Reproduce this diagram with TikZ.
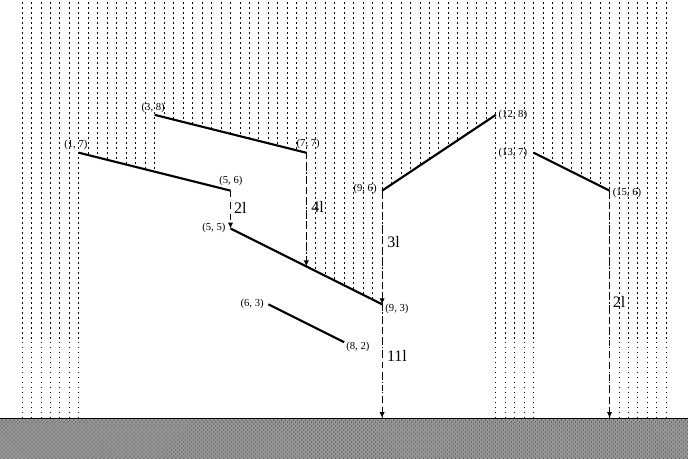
\documentclass[tikz,border=0pt]{standalone}
\usepackage{fontspec}
\setmainfont{Liberation Serif}
\usetikzlibrary{arrows.meta,patterns}
\begin{document}
\begin{tikzpicture}[
  rain/.style={line width=0.75pt, dash pattern=on 1.1pt off 2.65pt, black},
  seg/.style={line width=1.6pt},
  flow/.style={line width=0.75pt, dash pattern=on 5pt off 3.6pt, -{Latex[length=4.5pt,width=4pt]}},
  pt/.style={font=\fontsize{8}{9}\selectfont, inner sep=0pt},
  amt/.style={font=\fontsize{12}{14}\selectfont, inner sep=0pt},
  groundfill/.style={fill=black!40},
  groundtex/.style={pattern=crosshatch dots, pattern color=black!75},
]
\useasboundingbox (-1.082,-1.055) rectangle (17.07,11.03);
% ground
\fill[groundfill] (-1.2,-1.2) rectangle (17.2,0);
\fill[groundtex] (-1.2,-1.2) rectangle (17.2,0);
\draw[line width=0.8pt] (-1.2,0) -- (17.2,0);
% rain reaching the ground
\foreach \i [evaluate=\i as \x using \i/4] in {-2,...,4,36,48,49,50,51,52,60,61,...,66}
  \draw[rain] (\x,11.1) -- (\x,0);
% rain stopped by the segments
\foreach \i [evaluate=\i as \x using \i/4] in {5,...,12}
  \draw[rain] (\x,11.1) -- (\x,{7-(\x-1)/4});
\foreach \i [evaluate=\i as \x using \i/4] in {13,...,27}
  \draw[rain] (\x,11.1) -- (\x,{8-(\x-3)/4});
\foreach \i [evaluate=\i as \x using \i/4] in {28,...,35}
  \draw[rain] (\x,11.1) -- (\x,{5-(\x-5)/2});
\foreach \i [evaluate=\i as \x using \i/4] in {37,...,47}
  \draw[rain] (\x,11.1) -- (\x,{6+(\x-9)*2/3});
\foreach \i [evaluate=\i as \x using \i/4] in {53,...,59}
  \draw[rain] (\x,11.1) -- (\x,{7-(\x-13)/2});
% end points
\coordinate (a1) at (1,7);   \coordinate (a2) at (5,6);
\coordinate (b1) at (3,8);   \coordinate (b2) at (7,7);
\coordinate (c1) at (5,5);   \coordinate (c2) at (9,3);
\coordinate (d1) at (6,3);   \coordinate (d2) at (8,2);
\coordinate (e1) at (9,6);   \coordinate (e2) at (12,8);
\coordinate (f1) at (13,7);  \coordinate (f2) at (15,6);
\coordinate (c74) at (7,4);
\coordinate (g9) at (9,0);
\coordinate (g15) at (15,0);
% segments
\draw[seg] (a1) -- (a2);
\draw[seg] (b1) -- (b2);
\draw[seg] (c1) -- (c2);
\draw[seg] (d1) -- (d2);
\draw[seg] (e1) -- (e2);
\draw[seg] (f1) -- (f2);
% flows
\draw[flow] (a2) -- (c1);
\draw[flow] (b2) -- (c74);
\draw[flow] (e1) -- (c2);
\draw[flow] (c2) -- (g9);
\draw[flow] (f2) -- (g15);
% point labels
\node[pt] (la1) at (0.92,7.20) {(1, 7)};
\node[pt] (lb1) at (2.96,8.19) {(3, 8)};
\node[pt] (lb2) at (7.05,7.23) {(7, 7)};
\node[pt] (la2) at (5.01,6.25) {(5, 6)};
\node[pt] (lc1) at (4.56,5.01) {(5, 5)};
\node[pt] (lc2) at (9.39,2.88) {(9, 3)};
\node[pt] (le1) at (8.55,6.04) {(9, 6)};
\node[pt] (le2) at (12.45,7.99) {(12, 8)};
\node[pt] (lf1) at (12.45,7.00) {(13, 7)};
\node[pt] (lf2) at (15.46,5.95) {(15, 6)};
\node[pt] (ld1) at (5.57,3.01) {(6, 3)};
\node[pt] (ld2) at (8.36,1.87) {(8, 2)};
% amounts
\node[amt] (m1) at (5.26,5.55) {2l};
\node[amt] (m2) at (7.30,5.57) {4l};
\node[amt] (m3) at (9.30,4.64) {3l};
\node[amt] (m4) at (9.39,1.64) {11l};
\node[amt] (m5) at (15.25,3.06) {2l};
\end{tikzpicture}
\end{document}
